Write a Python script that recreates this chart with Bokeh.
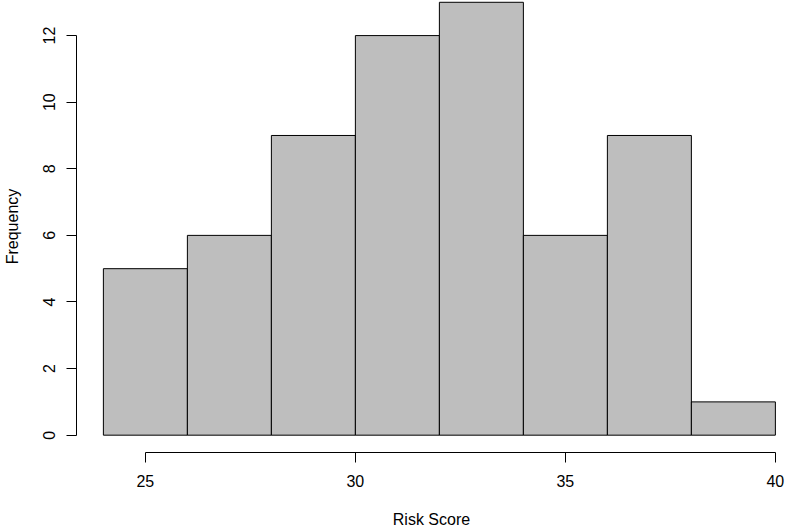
from bokeh.plotting import figure
from bokeh.models import FixedTicker, ColumnDataSource
from bokeh.embed import file_html
from bokeh.resources import INLINE

# Histogram data
bin_edges = [24, 26, 28, 30, 32, 34, 36, 38, 40]
counts = [5, 6, 9, 12, 13, 6, 9, 1]
x_ticks = [25, 30, 35, 40]
y_ticks = [0, 2, 4, 6, 8, 10, 12]
x_title = "Risk Score"
y_title = "Frequency"

FONT = "Liberation Sans"

W, H = 786, 530
left_border = 76
bottom_border = 78
frame_w = W - left_border
frame_h = H - bottom_border

# R-style 4% range extension
x_lo = 24 - 0.04 * 16
sx = 42.0
x_hi = x_lo + frame_w / sx
y_lo = -0.04 * 13
sy = 33.3
y_hi = y_lo + frame_h / sy

src = ColumnDataSource(dict(left=bin_edges[:-1], right=bin_edges[1:],
                            top=counts, bottom=[0] * len(counts)))

p = figure(width=W, height=H, output_backend="svg", toolbar_location=None,
           x_range=(x_lo, x_hi), y_range=(y_lo, y_hi),
           min_border_left=left_border, min_border_right=0,
           min_border_top=0, min_border_bottom=bottom_border,
           x_axis_label=x_title, y_axis_label=y_title)
p.outline_line_color = None
p.grid.visible = False
p.background_fill_color = "white"

p.quad(left="left", right="right", top="top", bottom="bottom", source=src,
       fill_color="#BEBEBE", line_color="black", line_width=1)

for ax, ticks, b in ((p.xaxis[0], x_ticks, (25, 40)), (p.yaxis[0], y_ticks, (0, 12))):
    ax.ticker = FixedTicker(ticks=ticks)
    ax.bounds = b
    ax.minor_tick_line_color = None
    ax.major_tick_in = 0
    ax.major_tick_out = 10
    ax.major_tick_line_color = "black"
    ax.axis_line_color = "black"
    ax.major_label_text_font = FONT
    ax.major_label_text_font_size = "16px"
    ax.major_label_text_color = "black"
    ax.major_label_standoff = 12
    ax.axis_label_text_font = FONT
    ax.axis_label_text_font_size = "16px"
    ax.axis_label_text_font_style = "normal"
    ax.axis_label_text_color = "black"
p.yaxis[0].major_label_orientation = "vertical"
p.yaxis[0].major_label_standoff = 11
p.xaxis[0].axis_label_standoff = 21
p.yaxis[0].axis_label_standoff = 20

open("out.html", "w").write(file_html(p, INLINE))
